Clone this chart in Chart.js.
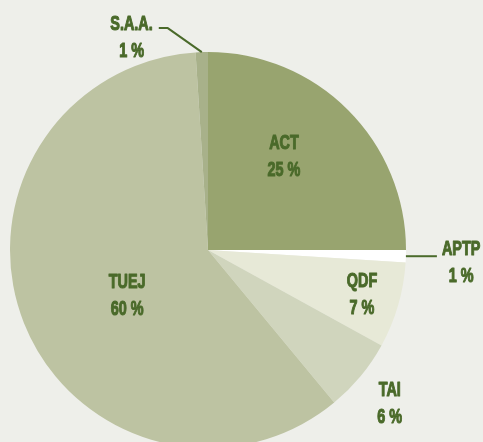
<!DOCTYPE html>
<html>
<head>
<meta charset="utf-8">
<script src="https://cdn.jsdelivr.net/npm/chart.js@4"></script>
<style>
  html, body { margin: 0; padding: 0; background: #eeefea; overflow: hidden; }
  #wrap { width: 483px; height: 448px; position: relative; }
</style>
</head>
<body>
<div id="wrap"><canvas id="pieChart"></canvas></div>
<script>
// Chart data
const categories = ['ACT', 'APTP', 'QDF', 'TAI', 'TUEJ', 'S.A.A.'];
const shares = [25, 1, 7, 6, 60, 1];
const sliceColors = ['#98a46f', '#ffffff', '#e7e9d7', '#d0d5bd', '#bdc3a2', '#a8b18a'];

// label placement: distance as fraction of radius, angle shift in degrees
const labelPlace = [
    { r: 0.61, shift: -6 },
    { r: 1.28, shift: 1 },
    { r: 0.81, shift: 0 },
    { r: 1.20, shift: 0.5 },
    { r: 0.47, shift: -8 },
    { r: 1.14, shift: -18 }
];

const textColor = '#4a6a2a';
const labelFont = 'bold 20px "Liberation Sans", Arial, sans-serif';
const squeeze = 0.72; // condensed look

const labelPlugin = {
    id: 'sliceLabels',
    afterDatasetsDraw(chart) {
        const ctx = chart.ctx;
        const arcs = chart.getDatasetMeta(0).data;
        ctx.save();
        ctx.font = labelFont;
        ctx.fillStyle = textColor;
        ctx.strokeStyle = textColor;
        ctx.lineWidth = 1.1;
        ctx.lineJoin = 'round';
        ctx.textAlign = 'center';
        ctx.textBaseline = 'middle';
        arcs.forEach(function(arc, i) {
            const mid = (arc.startAngle + arc.endAngle) / 2 + labelPlace[i].shift * Math.PI / 180;
            const d = arc.outerRadius * labelPlace[i].r;
            const x = arc.x + Math.cos(mid) * d;
            const y = arc.y + Math.sin(mid) * d;
            ctx.save();
            ctx.translate(x, y);
            ctx.scale(squeeze, 1);
            ctx.fillText(categories[i], 0, -13);
            ctx.strokeText(categories[i], 0, -13);
            ctx.fillText(shares[i] + ' %', 0, 14);
            ctx.strokeText(shares[i] + ' %', 0, 14);
            ctx.restore();
        });

        // leader lines for the two thin slices
        ctx.lineWidth = 2;
        // APTP
        let a = arcs[1];
        let m = (a.startAngle + a.endAngle) / 2;
        let ex = a.x + Math.cos(m) * a.outerRadius;
        let ey = a.y + Math.sin(m) * a.outerRadius;
        ctx.beginPath();
        ctx.moveTo(ex, ey);
        ctx.lineTo(ex + 31, ey);
        ctx.stroke();
        // S.A.A.
        a = arcs[5];
        m = (a.startAngle + a.endAngle) / 2;
        ex = a.x + Math.cos(m) * a.outerRadius;
        ey = a.y + Math.sin(m) * a.outerRadius;
        ctx.beginPath();
        ctx.moveTo(ex, ey);
        ctx.lineTo(ex - 34, ey - 24);
        ctx.lineTo(ex - 43, ey - 24);
        ctx.stroke();
        ctx.restore();
    }
};

const ctx = document.getElementById('pieChart').getContext('2d');
new Chart(ctx, {
    type: 'pie',
    data: {
        labels: categories,
        datasets: [{
            data: shares,
            backgroundColor: sliceColors,
            borderWidth: 0
        }]
    },
    options: {
        responsive: true,
        maintainAspectRatio: false,
        animation: false,
        layout: { padding: { left: 10, right: 77, top: 52, bottom: 0 } },
        plugins: {
            legend: { display: false },
            tooltip: { enabled: false }
        }
    },
    plugins: [labelPlugin]
});
</script>
</body>
</html>
